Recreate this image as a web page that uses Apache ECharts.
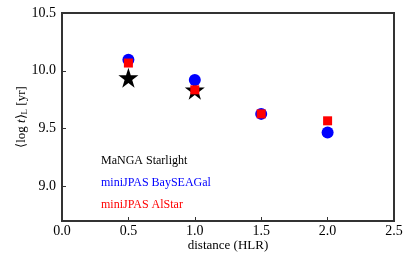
<!DOCTYPE html>
<html><head><meta charset="utf-8">
<script src="https://cdn.jsdelivr.net/npm/echarts@6/dist/echarts.min.js"></script>
<style>html,body{margin:0;padding:0;background:#fff}#c{width:415px;height:260px}</style>
</head><body><div id="c"></div>
<script>
const distances = [0.5, 1.0, 1.5, 2.0];
const mangaDist = [0.5, 1.0];
const mangaStarlight = [9.94, 9.835];
const bayseagal = [10.095, 9.92, 9.627, 9.465];
const alstar = [10.067, 9.835, 9.627, 9.567];
const yTicks = [9.0, 9.5, 10.0, 10.5];
const seriesNames = ['MaNGA Starlight', 'miniJPAS BaySEAGal', 'miniJPAS AlStar'];
const seriesColors = ['#000000', '#0000ff', '#ff0000'];

const starPath = 'path://M50,0 L61.2,34.5 L97.6,34.5 L68.2,55.9 L79.4,90.5 L50,69.1 L20.6,90.5 L31.8,55.9 L2.4,34.5 L38.8,34.5 Z';
const font = 'Liberation Serif';
const chart = echarts.init(document.getElementById('c'));
chart.setOption({
  animation: false,
  textStyle: {fontFamily: font},
  grid: {left: 62, right: 21, top: 13, bottom: 39, show: true, borderColor: '#333', borderWidth: 2},
  legend: {
    orient: 'vertical', left: 91, top: 150, itemGap: 10, icon: 'none', itemWidth: 0, itemHeight: 0,
    textStyle: {fontFamily: font, fontSize: 12},
    data: seriesNames.map((n, i) => ({name: n, textStyle: {color: seriesColors[i]}}))
  },
  xAxis: {
    type: 'value', min: 0, max: 2.5, interval: 0.5,
    name: 'distance (HLR)', nameLocation: 'middle', nameGap: 18, nameMoveOverlap: false,
    nameTextStyle: {fontFamily: font, fontSize: 13, color: '#000'},
    axisLine: {show: true, lineStyle: {color: '#333', width: 2}},
    axisTick: {show: true, inside: true, length: 4, lineStyle: {color: '#333'}},
    axisLabel: {fontFamily: font, fontSize: 14, color: '#000', margin: 3, formatter: v => v.toFixed(1)},
    splitLine: {show: false}
  },
  yAxis: {
    type: 'value', min: 8.7, max: 10.5,
    name: '⟨log {i|t}⟩{sub|L} [yr]', nameLocation: 'middle', nameGap: 33, nameRotate: 90, nameMoveOverlap: false,
    nameTextStyle: {fontFamily: font, fontSize: 13, color: '#000',
      rich: {i: {fontStyle: 'italic', fontFamily: font, fontSize: 13}, sub: {fontFamily: font, fontSize: 9, verticalAlign: 'bottom', padding: [6, 0, 0, 0]}}},
    axisLine: {show: true, lineStyle: {color: '#333', width: 2}},
    axisLabel: {fontFamily: font, fontSize: 14, color: '#000', margin: 6, formatter: v => v.toFixed(1),
      customValues: yTicks},
    axisTick: {show: true, inside: true, length: 4, lineStyle: {color: '#333'}, customValues: yTicks},
    splitLine: {show: false}
  },
  series: [
    {name: seriesNames[0], type: 'scatter', symbol: starPath, symbolSize: 20, itemStyle: {color: '#000', opacity: 1},
     data: mangaDist.map((d, i) => [d, mangaStarlight[i]]), z: 1},
    {name: seriesNames[1], type: 'scatter', symbol: 'circle', symbolSize: 12, itemStyle: {color: '#0000ff', opacity: 1},
     data: distances.map((d, i) => [d, bayseagal[i]]), z: 2},
    {name: seriesNames[2], type: 'scatter', symbol: 'rect', symbolSize: 9, itemStyle: {color: '#ff0000', opacity: 1},
     data: distances.map((d, i) => [d, alstar[i]]), z: 3}
  ]
});
</script></body></html>
